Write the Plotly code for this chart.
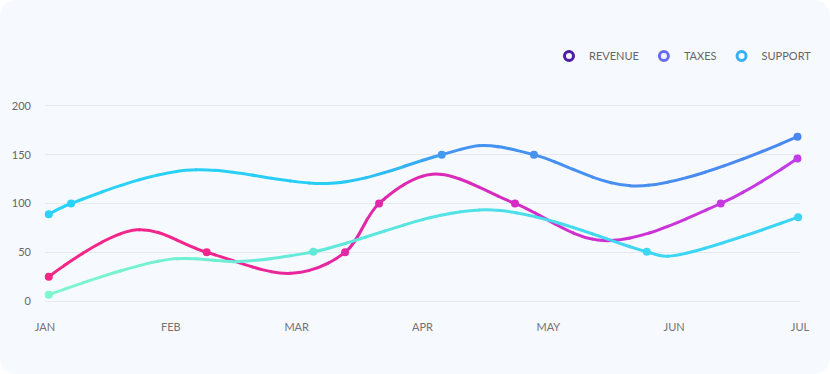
import plotly.graph_objects as go

# ---------------- data ----------------
MONTHS = ["JAN", "FEB", "MAR", "APR", "MAY", "JUN", "JUL"]
MONTH_POS = [0, 1, 2, 3, 4, 5, 6]
Y_TICKS = [0, 50, 100, 150, 200]

# x positions are in month units (0 = JAN, 6 = JUL)
revenue_x = [0.03, 0.73, 1.285, 1.96, 2.385, 2.655, 3.08, 3.735, 4.44, 5.37, 5.98]
revenue_y = [25, 73, 50, 28.5, 50, 100, 130, 100, 62, 100, 146]
revenue_marked = [1, 0, 1, 0, 1, 1, 0, 1, 0, 1, 1]

taxes_x = [0.03, 0.207, 1.12, 2.305, 3.153, 3.48, 3.886, 4.70, 5.98]
taxes_y = [89, 100, 134, 121, 150, 159.5, 150, 118, 168.5]
taxes_marked = [1, 1, 0, 0, 1, 0, 1, 0, 1]

support_x = [0.03, 1.0, 1.55, 2.132, 3.51, 4.782, 4.95, 5.985]
support_y = [6.5, 43, 40.5, 50.5, 93.5, 50.5, 46, 86]
support_marked = [1, 0, 0, 1, 0, 1, 0, 1]

# ---------------- styling ----------------
W, H = 830, 374
ML, MR, MT, MB = 45, 30, 103, 70
X_RANGE = [0, 6]
Y_RANGE = [-3, 203]
FONT = "Lato, 'Open Sans', sans-serif"

# gradient stops along x (month units) -> colour
GRADIENTS = {
    "REVENUE": [(0.0, "#f72585"), (1.3, "#f0268f"), (2.5, "#e228a8"), (3.8, "#d42bc6"), (6.0, "#c23ce9")],
    "TAXES": [(0.0, "#2ad3f7"), (2.3, "#27cdf5"), (2.8, "#30b8f4"), (3.2, "#4495f0"), (6.0, "#4a88f0")],
    "SUPPORT": [(0.0, "#80f6cf"), (2.1, "#62ead9"), (3.5, "#4fe0e8"), (4.8, "#3dd6f3"), (6.0, "#3ad4f6")],
}
LEGEND_COLORS = {"REVENUE": "#4c1fa0", "TAXES": "#6a6cf3", "SUPPORT": "#36b0f6"}

SERIES = [
    ("REVENUE", revenue_x, revenue_y, revenue_marked),
    ("TAXES", taxes_x, taxes_y, taxes_marked),
    ("SUPPORT", support_x, support_y, support_marked),
]


def hex2rgb(h):
    h = h.lstrip("#")
    return [int(h[i:i + 2], 16) for i in (0, 2, 4)]


def grad_color(stops, u):
    if u <= stops[0][0]:
        c = hex2rgb(stops[0][1])
    elif u >= stops[-1][0]:
        c = hex2rgb(stops[-1][1])
    else:
        for (u0, c0), (u1, c1) in zip(stops[:-1], stops[1:]):
            if u0 <= u <= u1:
                t = (u - u0) / (u1 - u0)
                a, b = hex2rgb(c0), hex2rgb(c1)
                c = [a[i] + (b[i] - a[i]) * t for i in range(3)]
                break
    return "rgb(%d,%d,%d)" % tuple(round(v) for v in c)


fig = go.Figure()
layout_axes = {}

# legend entries (on the base subplot)
for name, xs, ys, mk in SERIES:
    fig.add_trace(go.Scatter(
        x=[None], y=[None], mode="markers", name=name, xaxis="x", yaxis="y",
        marker=dict(symbol="circle-open", size=9, color=LEGEND_COLORS[name], line=dict(width=3)),
        hoverinfo="skip",
    ))

# gradient lines: the same spline drawn in N clipped vertical slices
N = 40
plot_w = W - ML - MR
eps = 0.7 / plot_w
for k in range(N):
    d0 = max(0.0, k / N - eps)
    d1 = min(1.0, (k + 1) / N + eps)
    r0 = X_RANGE[0] + (X_RANGE[1] - X_RANGE[0]) * d0
    r1 = X_RANGE[0] + (X_RANGE[1] - X_RANGE[0]) * d1
    uc = X_RANGE[0] + (X_RANGE[1] - X_RANGE[0]) * (k + 0.5) / N
    idx = k + 2
    layout_axes["xaxis%d" % idx] = dict(domain=[d0, d1], range=[r0, r1], visible=False,
                                        fixedrange=True, anchor="y%d" % idx)
    layout_axes["yaxis%d" % idx] = dict(domain=[0, 1], range=Y_RANGE, visible=False,
                                        fixedrange=True, anchor="x%d" % idx)
    for name, xs, ys, mk in SERIES:
        fig.add_trace(go.Scatter(
            x=xs, y=ys, mode="lines", showlegend=False, hoverinfo="skip",
            xaxis="x%d" % idx, yaxis="y%d" % idx,
            line=dict(shape="spline", smoothing=1.0, width=3,
                      color=grad_color(GRADIENTS[name], uc), simplify=False),
        ))

# markers on a top full-width subplot
mi = N + 2
layout_axes["xaxis%d" % mi] = dict(domain=[0, 1], range=X_RANGE, visible=False,
                                   fixedrange=True, anchor="y%d" % mi)
layout_axes["yaxis%d" % mi] = dict(domain=[0, 1], range=Y_RANGE, visible=False,
                                   fixedrange=True, anchor="x%d" % mi)
for name, xs, ys, mk in SERIES:
    px = [x for x, m in zip(xs, mk) if m]
    py = [y for y, m in zip(ys, mk) if m]
    fig.add_trace(go.Scatter(
        x=px, y=py, mode="markers", showlegend=False, cliponaxis=False,
        xaxis="x%d" % mi, yaxis="y%d" % mi, name=name,
        marker=dict(size=8, color=[grad_color(GRADIENTS[name], x) for x in px],
                    line=dict(width=0)),
    ))

# rounded card background
R = 18
x0, x1 = -ML, W - ML
y0, y1 = -MB, H - MB
card_path = (
    f"M{x0 + R},{y0} L{x1 - R},{y0} Q{x1},{y0} {x1},{y0 + R} "
    f"L{x1},{y1 - R} Q{x1},{y1} {x1 - R},{y1} "
    f"L{x0 + R},{y1} Q{x0},{y1} {x0},{y1 - R} "
    f"L{x0},{y0 + R} Q{x0},{y0} {x0 + R},{y0} Z"
)

fig.update_layout(
    width=W, height=H,
    margin=dict(l=ML, r=MR, t=MT, b=MB, pad=0),
    paper_bgcolor="#ffffff",
    plot_bgcolor="rgba(0,0,0,0)",
    font=dict(family=FONT, size=11, color="#6e6e6e"),
    showlegend=True,
    legend=dict(orientation="h", x=1.0 + 17 / plot_w, xanchor="right",
                y=1 + (MT - 56) / (H - MT - MB),
                yanchor="middle", font=dict(size=11, color="#666666"),
                bgcolor="rgba(0,0,0,0)", itemclick=False, itemdoubleclick=False),
    xaxis=dict(domain=[0, 1], range=X_RANGE, tickvals=MONTH_POS, ticktext=MONTHS,
               showgrid=False, zeroline=False, showline=False, ticks="",
               ticklabelstandoff=15, tickfont=dict(size=11, color="#737373"),
               fixedrange=True, anchor="y"),
    yaxis=dict(domain=[0, 1], range=Y_RANGE, tickvals=Y_TICKS, showgrid=True,
               gridcolor="#e6e9ef", gridwidth=1, zeroline=False, showline=False, ticks="",
               ticklabelstandoff=13, tickfont=dict(size=11, color="#666666"),
               fixedrange=True, anchor="x"),
    shapes=[dict(type="path", xref="paper", yref="paper", xsizemode="pixel", ysizemode="pixel",
                 xanchor=0, yanchor=0, path=card_path, fillcolor="#f6f9fd",
                 line=dict(width=0), layer="below")],
    hovermode=False,
    **layout_axes,
)

fig.write_html("out.html", config={"displayModeBar": False},
               post_script="document.body.style.margin='0px';document.body.style.padding='0px';")
